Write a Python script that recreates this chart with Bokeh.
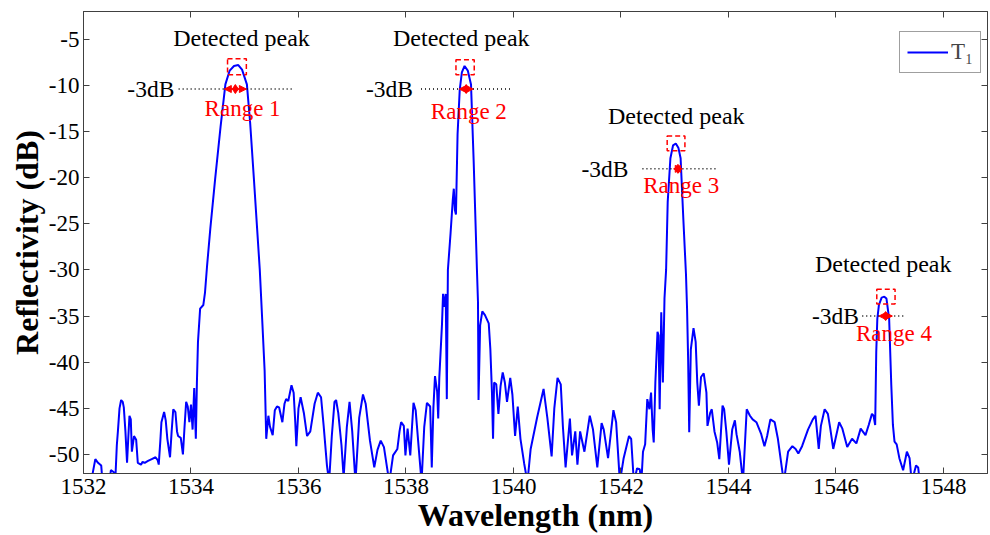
from bokeh.plotting import figure
from bokeh.models import (ColumnDataSource, LinearAxis, FixedTicker, Arrow,
                          NormalHead)
from bokeh.core.properties import value
from bokeh.embed import file_html
from bokeh.resources import INLINE

# ---------------- data ----------------
wavelength = [
    1532.00, 1532.14, 1532.22, 1532.27, 1532.33, 1532.36, 1532.48, 1532.51, 1532.56, 1532.59,
    1532.62, 1532.64, 1532.67, 1532.70, 1532.73, 1532.75, 1532.78, 1532.81, 1532.835, 1532.855,
    1532.88, 1532.90, 1532.94, 1532.98, 1533.01, 1533.07, 1533.10, 1533.14, 1533.20, 1533.27,
    1533.34, 1533.38, 1533.40, 1533.43, 1533.45, 1533.50, 1533.53, 1533.56, 1533.61, 1533.64,
    1533.67, 1533.71, 1533.74, 1533.76, 1533.81, 1533.85, 1533.88, 1533.91, 1533.94, 1533.97,
    1534.00, 1534.03, 1534.06, 1534.09, 1534.11, 1534.13, 1534.17, 1534.23, 1534.26, 1534.30,
    1534.36, 1534.45, 1534.55, 1534.64, 1534.72, 1534.80, 1534.88, 1534.95, 1535.04, 1535.10,
    1535.17, 1535.23, 1535.28, 1535.33, 1535.37, 1535.40, 1535.44, 1535.47, 1535.52, 1535.56,
    1535.60, 1535.64, 1535.70, 1535.74, 1535.77, 1535.81, 1535.87, 1535.91, 1535.94, 1535.96,
    1536.00, 1536.04, 1536.10, 1536.16, 1536.22, 1536.30, 1536.36, 1536.42, 1536.47, 1536.53,
    1536.57, 1536.62, 1536.67, 1536.70, 1536.74, 1536.80, 1536.84, 1536.90, 1536.95, 1537.00,
    1537.06, 1537.13, 1537.20, 1537.25, 1537.33, 1537.41, 1537.47, 1537.53, 1537.59, 1537.65,
    1537.69, 1537.76, 1537.84, 1537.88, 1537.91, 1537.96, 1537.99, 1538.03, 1538.08, 1538.14,
    1538.18, 1538.24, 1538.29, 1538.34, 1538.39, 1538.45, 1538.48, 1538.51, 1538.54, 1538.58,
    1538.60, 1538.62, 1538.67, 1538.69, 1538.72, 1538.74, 1538.76, 1538.78, 1538.83, 1538.87,
    1538.89, 1538.91, 1538.93, 1538.96, 1539.00, 1539.04, 1539.09, 1539.15, 1539.21, 1539.26,
    1539.32, 1539.34, 1539.35, 1539.38, 1539.42, 1539.47, 1539.54, 1539.57, 1539.60, 1539.62,
    1539.64, 1539.68, 1539.72, 1539.76, 1539.80, 1539.84, 1539.88, 1539.94, 1539.98, 1540.03,
    1540.08, 1540.13, 1540.20, 1540.26, 1540.32, 1540.44, 1540.56, 1540.63, 1540.71, 1540.76,
    1540.82, 1540.88, 1540.92, 1540.97, 1541.05, 1541.09, 1541.15, 1541.19, 1541.24, 1541.32,
    1541.42, 1541.48, 1541.56, 1541.64, 1541.68, 1541.76, 1541.86, 1541.91, 1541.98, 1542.05,
    1542.15, 1542.19, 1542.24, 1542.30, 1542.35, 1542.38, 1542.41, 1542.45, 1542.49, 1542.53,
    1542.56, 1542.59, 1542.61, 1542.64, 1542.68, 1542.70, 1542.72, 1542.75, 1542.78, 1542.81,
    1542.84, 1542.87, 1542.92, 1542.97, 1543.02, 1543.07, 1543.11, 1543.16, 1543.21, 1543.23,
    1543.25, 1543.27, 1543.30, 1543.35, 1543.39, 1543.42, 1543.45, 1543.49, 1543.54, 1543.59,
    1543.61, 1543.66, 1543.69, 1543.74, 1543.79, 1543.83, 1543.89, 1543.92, 1543.96, 1544.01,
    1544.07, 1544.12, 1544.15, 1544.21, 1544.27, 1544.34, 1544.40, 1544.45, 1544.52, 1544.61,
    1544.67, 1544.72, 1544.78, 1544.86, 1544.92, 1545.03, 1545.11, 1545.19, 1545.25, 1545.30,
    1545.37, 1545.48, 1545.57, 1545.62, 1545.68, 1545.72, 1545.79, 1545.85, 1545.89, 1545.95,
    1546.06, 1546.12, 1546.21, 1546.30, 1546.38, 1546.46, 1546.55, 1546.61, 1546.67, 1546.70,
    1546.73, 1546.75, 1546.77, 1546.80, 1546.85, 1546.90, 1546.94, 1546.99, 1547.03, 1547.06,
    1547.09, 1547.13, 1547.18, 1547.25, 1547.32, 1547.37, 1547.41, 1547.49, 1547.53, 1547.56,
    1547.60,
]
reflectivity = [
    -54.0, -53.0, -50.5, -50.9, -51.2, -53.5, -53.0, -51.7, -51.9, -53.0,
    -49.0, -47.5, -45.0, -44.1, -44.3, -44.9, -47.5, -50.9, -48.0, -45.8,
    -46.2, -49.7, -48.0, -48.4, -50.9, -51.1, -50.8, -50.9, -50.7, -50.5,
    -50.3, -50.6, -51.1, -48.5, -46.5, -45.4, -46.3, -48.3, -50.3, -47.5,
    -45.1, -45.4, -47.5, -48.0, -48.2, -50.0, -47.0, -44.3, -44.8, -46.5,
    -44.6, -47.3, -42.8, -48.3, -42.2, -37.8, -34.2, -33.8, -32.5, -29.5,
    -25.5, -20.1, -14.5, -9.9, -8.4, -7.9, -7.8, -8.3, -9.9, -14.0,
    -20.1, -25.5, -30.0, -36.0, -40.9, -48.3, -45.8, -47.0, -47.9, -45.2,
    -44.8, -44.9, -46.5, -44.5, -44.0, -44.2, -42.5, -43.3, -46.5, -49.1,
    -45.0, -43.8, -45.5, -48.0, -47.5, -44.5, -43.3, -43.8, -47.0, -51.2,
    -53.0, -48.0, -44.3, -44.1, -45.5, -49.0, -52.5, -47.0, -44.3, -47.5,
    -53.0, -46.0, -43.5, -44.5, -48.5, -51.4, -49.5, -48.5, -49.2, -51.5,
    -53.0, -50.1, -49.4, -47.5, -46.5, -46.9, -50.1, -47.2, -50.1, -44.4,
    -45.2, -49.5, -53.0, -47.0, -44.4, -44.8, -51.4, -45.0, -41.5, -43.2,
    -46.1, -41.7, -35.9, -32.6, -34.0, -32.6, -44.0, -30.0, -26.0, -22.5,
    -21.2, -23.5, -24.0, -15.3, -10.5, -8.6, -7.9, -8.4, -9.9, -18.3,
    -29.9, -33.5, -44.1, -36.0, -34.5, -34.9, -35.8, -38.6, -43.3, -48.3,
    -42.2, -42.4, -45.6, -42.6, -41.1, -42.2, -44.3, -41.7, -43.5, -48.0,
    -44.8, -48.3, -51.0, -53.0, -49.4, -46.0, -42.9, -46.0, -50.2, -45.0,
    -41.7, -42.4, -47.0, -51.4, -46.1, -50.1, -47.5, -51.1, -47.5, -49.7,
    -45.8, -47.3, -51.4, -46.6, -47.3, -50.4, -45.2, -46.5, -53.0, -50.4,
    -48.0, -48.3, -53.0, -51.5, -51.6, -53.0, -49.7, -48.9, -44.0, -45.1,
    -43.3, -47.3, -48.7, -42.2, -36.7, -37.1, -45.1, -34.6, -42.2, -33.1,
    -30.0, -22.6, -17.9, -16.5, -16.3, -16.8, -17.9, -24.4, -30.5, -34.2,
    -39.7, -47.6, -38.6, -36.3, -37.8, -42.2, -44.7, -41.6, -41.2, -43.3,
    -46.9, -45.5, -45.1, -47.5, -48.7, -50.5, -44.7, -45.1, -47.5, -51.1,
    -47.3, -46.3, -47.8, -49.7, -53.0, -45.1, -45.8, -46.2, -46.5, -47.8,
    -49.1, -48.0, -46.2, -46.5, -48.3, -53.0, -49.7, -49.1, -49.4, -49.9,
    -49.1, -47.3, -46.2, -45.8, -49.4, -46.9, -45.1, -45.6, -47.0, -49.4,
    -46.5, -47.2, -49.2, -48.3, -48.8, -47.2, -47.9, -46.8, -45.6, -45.8,
    -46.8, -38.9, -35.3, -33.8, -33.0, -32.9, -33.1, -35.3, -42.5, -46.8,
    -48.6, -48.9, -50.4, -51.7, -49.7, -50.4, -53.0, -51.2, -51.4, -53.0,
    -55.0,
]

x_ticks = [1532, 1534, 1536, 1538, 1540, 1542, 1544, 1546, 1548]
y_ticks = [-50, -45, -40, -35, -30, -25, -20, -15, -10, -5]

# annotation data (per detected peak)
peak_text_x = [1534.94, 1539.03, 1543.03, 1546.88]
peak_text_y = [-4.86, -4.86, -13.3, -29.4]
box_left = [1534.68, 1538.93, 1542.86, 1546.76]
box_right = [1535.03, 1539.27, 1543.19, 1547.10]
box_top = [-7.13, -7.24, -15.5, -32.1]
box_bottom = [-8.86, -8.86, -17.1, -33.7]
db3_text_x = [1533.69, 1538.13, 1542.14, 1546.43]
db3_y = [-10.4, -10.4, -19.05, -35.0]
dot_x0 = [1533.77, 1538.28, 1542.40, 1546.49]
dot_x1 = [1535.92, 1539.96, 1543.80, 1547.27]
arrow_x0 = [1534.62, 1538.99, 1542.98, 1546.80]
arrow_x1 = [1535.03, 1539.25, 1543.14, 1547.05]
range_labels = ["Range 1", "Range 2", "Range 3", "Range 4"]
range_x = [1534.96, 1539.17, 1543.12, 1547.08]
range_y = [-12.5, -12.8, -20.8, -36.9]

# ---------------- figure ----------------
FONT = "Liberation Serif"
AX = "#404040"

p = figure(width=990, height=535, x_range=(1532, 1548.82), y_range=(-52.06, -2),
           output_backend="svg", toolbar_location=None,
           min_border_left=83, min_border_right=3, min_border_top=11,
           min_border_bottom=62)
p.xgrid.visible = False
p.ygrid.visible = False
p.outline_line_color = AX
p.background_fill_color = "white"
p.border_fill_color = "white"

p.line(wavelength, reflectivity, line_color="#0000FF", line_width=2,
       legend_label="T\u2081")

# annotations
p.text(x=peak_text_x, y=peak_text_y, text=["Detected peak"] * 4,
       text_font=value(FONT), text_font_size="24px", text_color="black",
       text_align="center", text_baseline="middle")
p.quad(left=box_left, right=box_right, top=box_top, bottom=box_bottom,
       fill_color=None, line_color="#FF0000", line_width=1.5, line_dash="5 3")
p.segment(x0=dot_x0, y0=db3_y, x1=dot_x1, y1=db3_y, line_color="black",
          line_width=1.5, line_dash="1 3")
p.text(x=db3_text_x, y=db3_y, text=["-3dB"] * 4,
       text_font=value(FONT), text_font_size="23.5px", text_color="black",
       text_align="right", text_baseline="middle")
arrow_src = ColumnDataSource(dict(x0=arrow_x0, x1=arrow_x1, y=db3_y))
p.add_layout(Arrow(source=arrow_src, x_start="x0", y_start="y", x_end="x1", y_end="y",
                   line_color="#FF0000", line_width=1.5,
                   start=NormalHead(size=7, fill_color="#FF0000", line_color="#FF0000"),
                   end=NormalHead(size=7, fill_color="#FF0000", line_color="#FF0000")))
mid_x = [(a + b) / 2 for a, b in zip(arrow_x0, arrow_x1)]
p.scatter(x=mid_x, y=db3_y, marker="diamond", size=9, color="#FF0000")
p.text(x=range_x, y=range_y, text=range_labels,
       text_font=value(FONT), text_font_size="23px", text_color="#FF0000",
       text_align="center", text_baseline="middle")

# axes
xb = p.xaxis[0]
xb.ticker = FixedTicker(ticks=x_ticks)
xb.major_label_overrides = {t: str(t) for t in x_ticks}
yl = p.yaxis[0]
yl.ticker = FixedTicker(ticks=y_ticks)
yl.major_label_overrides = {t: str(t) for t in y_ticks}
for ax in (xb, yl):
    ax.major_tick_in = 6
    ax.major_tick_out = 0
    ax.minor_tick_line_color = None
    ax.axis_line_color = AX
    ax.major_tick_line_color = AX
    ax.major_label_text_font = FONT
    ax.major_label_text_font_size = "23px"
    ax.major_label_text_color = "black"
    ax.axis_label_text_font = FONT
    ax.axis_label_text_font_size = "32px"
    ax.axis_label_text_font_style = "bold"
    ax.axis_label_text_color = "black"
xb.axis_label = "Wavelength (nm)"
yl.axis_label = "Reflectivity (dB)"
xb.major_label_standoff = 5
xb.axis_label_standoff = 0
yl.major_label_standoff = 4
yl.axis_label_standoff = 1

# box: tick marks on top and right, without labels
xt = LinearAxis(ticker=FixedTicker(ticks=x_ticks))
yr = LinearAxis(ticker=FixedTicker(ticks=y_ticks))
for ax in (xt, yr):
    ax.major_tick_in = 6
    ax.major_tick_out = 0
    ax.minor_tick_line_color = None
    ax.axis_line_color = AX
    ax.major_tick_line_color = AX
    ax.major_label_text_font_size = "1px"
    ax.major_label_text_color = None
    ax.major_label_standoff = 0
p.add_layout(xt, "above")
p.add_layout(yr, "right")

# legend
lg = p.legend[0]
lg.location = (816, 400)
lg.margin = 0
lg.padding = 7
lg.spacing = 0
lg.glyph_width = 41
lg.glyph_height = 22
lg.label_standoff = 3
lg.label_text_font = FONT
lg.label_text_font_size = "23px"
lg.border_line_color = AX
lg.border_line_width = 1
lg.background_fill_color = "white"
lg.background_fill_alpha = 1.0

open("out.html", "w").write(file_html(p, INLINE))
